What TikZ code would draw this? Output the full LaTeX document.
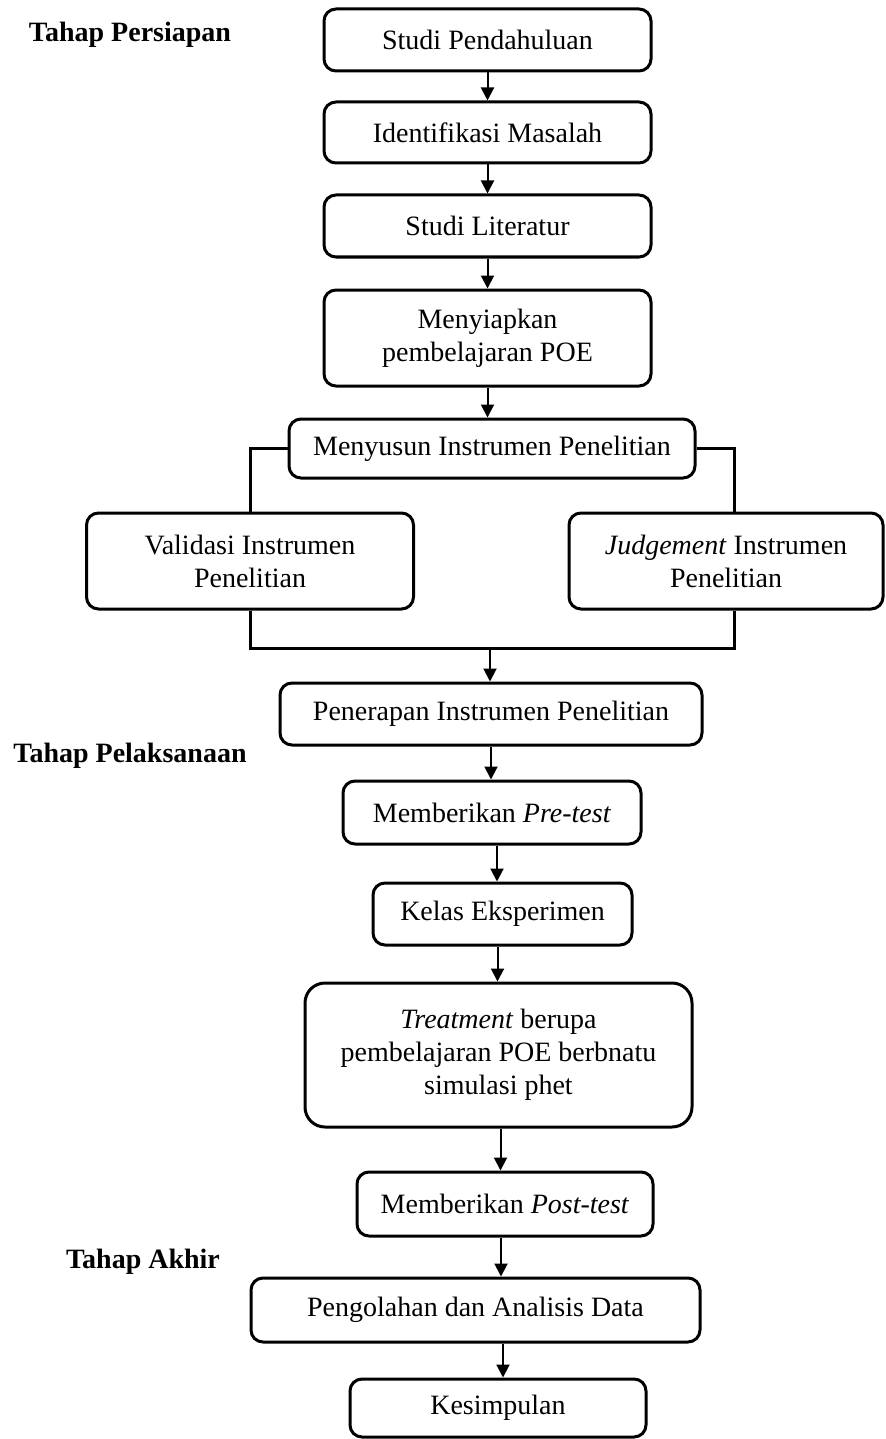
\documentclass[tikz,border=0pt]{standalone}
\usepackage{fontspec}
\setmainfont{Liberation Serif}
\usepackage{tikz}
\usetikzlibrary{arrows.meta,positioning}

\tikzset{
  box/.style={draw,line width=1.5pt,rounded corners=6pt,align=center,inner sep=2pt},
  arr/.style={-{Triangle[width=6.5pt,length=6.5pt]},line width=1pt},
  link/.style={line width=1.5pt},
  stage/.style={font=\fontsize{14}{16.5}\selectfont\bfseries}
}

\begin{document}
\begin{tikzpicture}[x=0.5pt,y=-0.5pt,font=\fontsize{14}{16.5}\selectfont]
\useasboundingbox (0,0) rectangle (885,1439);

% tahap labels
\node[stage] (tp1) at (130,35) {Tahap Persiapan};
\node[stage] (tp2) at (130,756) {Tahap Pelaksanaan};
\node[stage] (tp3) at (143,1262) {Tahap Akhir};

% boxes
\node[box,minimum width=163.5pt,minimum height=31pt] (sp) at (487.5,40) {Studi Pendahuluan};
\node[box,minimum width=163.5pt,minimum height=30.5pt] (im) at (487.5,132.5) {Identifikasi Masalah};
\node[box,minimum width=163.5pt,minimum height=31pt] (sl) at (487.5,226) {Studi Literatur};
\node[box,minimum width=163.5pt,minimum height=48pt] (mp) at (487.5,338) {Menyiapkan\\pembelajaran POE};
\node[box,minimum width=203pt,minimum height=29.5pt] (mi) at (492,448.5) {Menyusun Instrumen Penelitian};
\node[box,minimum width=163.5pt,minimum height=48pt] (vi) at (250,561) {Validasi Instrumen\\Penelitian};
\node[box,minimum width=157pt,minimum height=48pt] (ji) at (726,561) {\textit{Judgement} Instrumen\\Penelitian};
\node[box,minimum width=211pt,minimum height=31pt] (pi) at (491,714) {Penerapan Instrumen Penelitian};
\node[box,minimum width=149pt,minimum height=31.5pt] (pre) at (492,812.5) {Memberikan \textit{Pre-test}};
\node[box,minimum width=129.5pt,minimum height=31pt] (ke) at (502.5,914) {Kelas Eksperimen};
\node[box,rounded corners=10pt,minimum width=193.5pt,minimum height=72pt] (tr) at (498.5,1055) {\textit{Treatment} berupa\\pembelajaran POE berbnatu\\simulasi phet};
\node[box,minimum width=148pt,minimum height=32pt] (post) at (505,1204) {Memberikan \textit{Post-test}};
\node[box,minimum width=224.5pt,minimum height=32pt] (pa) at (475.5,1310) {Pengolahan dan Analisis Data};
\node[box,minimum width=148pt,minimum height=29pt] (ks) at (498,1408) {Kesimpulan};

% alur
\draw[arr] (sp.south) -- (sp.south |- im.north);
\draw[arr] (im.south) -- (im.south |- sl.north);
\draw[arr] (sl.south) -- (sl.south |- mp.north);
\draw[arr] (mp.south) -- (mp.south |- mi.north);
\draw[link] (mi.west) -| (vi.north);
\draw[link] (mi.east) -| ([xshift=4pt]ji.north);
\coordinate (join) at (490,648);
\draw[link] (vi.south) |- (join) -| ([xshift=4pt]ji.south);
\draw[arr] (join) -- (join |- pi.north);
\draw[arr] (pi.south) -- (pi.south |- pre.north);
\draw[arr] ([xshift=2.5pt]pre.south) -- ([xshift=2.5pt]pre.south |- ke.north);
\draw[arr] ([xshift=-2.5pt]ke.south) -- ([xshift=-2.5pt]ke.south |- tr.north);
\draw[arr] ([xshift=1pt]tr.south) -- ([xshift=1pt]tr.south |- post.north);
\draw[arr] ([xshift=-2pt]post.south) -- ([xshift=-2pt]post.south |- pa.north);
\draw[arr] ([xshift=2.5pt]ks.north |- pa.south) -- ([xshift=2.5pt]ks.north);
\end{tikzpicture}
\end{document}
